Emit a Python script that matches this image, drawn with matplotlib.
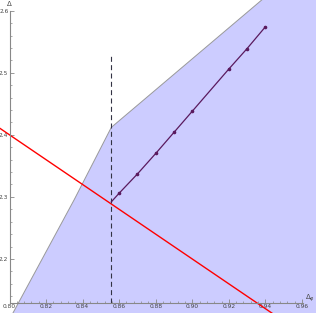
import numpy as np
import matplotlib
matplotlib.use('Agg')
import matplotlib.pyplot as plt
from matplotlib.ticker import FormatStrFormatter

# Граница допустимой области (закрашена)
region_x = [0.7995, 0.8353, 0.8557, 0.9700]
region_y = [2.100, 2.295, 2.412, 2.697]

# Прямая (красная)
red_x = [0.7900, 0.9500]
red_y = [2.4200, 2.1000]

# Кривая с точками (фиолетовая)
curve_x = [0.8557, 0.86, 0.87, 0.88, 0.89, 0.90, 0.91, 0.92, 0.93, 0.94]
curve_y = [2.292, 2.306, 2.337, 2.370, 2.404, 2.438, 2.472, 2.506, 2.539, 2.574]
dot_x = [0.86, 0.87, 0.88, 0.89, 0.90, 0.92, 0.93, 0.94]
dot_y = [2.306, 2.337, 2.370, 2.404, 2.438, 2.506, 2.539, 2.574]

# Вертикальная штриховая линия
dash_x = 0.8557
dash_y = (2.129, 2.531)

# Деления осей
x_major = [0.80, 0.82, 0.84, 0.86, 0.88, 0.90, 0.92, 0.94, 0.96]
y_major = [2.2, 2.3, 2.4, 2.5, 2.6]

# Начало осей
x0, y0 = 0.80, 2.129

fig = plt.figure(figsize=(3.16, 3.13), dpi=100)
ax = fig.add_axes([0, 0, 1, 1])
ax.set_xlim(0.7948, 0.9677)
ax.set_ylim(2.113, 2.6172)

# Закрашенная область
poly_x = region_x + [region_x[-1], region_x[0]]
poly_y = region_y + [region_y[0], region_y[0]]
ax.fill(poly_x, poly_y, facecolor='#ccccff', edgecolor='none', zorder=1)
ax.plot(region_x, region_y, color='#999999', lw=0.7, zorder=1.5)

ax.plot(red_x, red_y, color='#ff0000', lw=1.0, zorder=3)
ax.vlines(dash_x, dash_y[0], dash_y[1], colors='#333344', lw=0.8,
          linestyles=(0, (4.5, 3)), zorder=3)
ax.plot(curve_x, curve_y, color='#5a1a5e', lw=0.9, zorder=4)
ax.plot(dot_x, dot_y, 'o', color='#5a1a5e', ms=1.6, zorder=4)

# Оси в стиле Mathematica
for s in ('top', 'right'):
    ax.spines[s].set_visible(False)
ax.spines['left'].set_position(('data', x0))
ax.spines['bottom'].set_position(('data', y0))
ax.spines['left'].set_bounds(y0, 2.6)
ax.spines['bottom'].set_bounds(x0, 0.9605)
for s in ('left', 'bottom'):
    ax.spines[s].set_color('#888888')
    ax.spines[s].set_linewidth(0.8)
    ax.spines[s].set_zorder(5)

ax.set_xticks(x_major)
ax.set_yticks(y_major)
ax.set_xticks(np.arange(0.80, 0.9601, 0.004), minor=True)
ax.set_yticks(np.arange(2.14, 2.6001, 0.02), minor=True)
ax.xaxis.set_major_formatter(FormatStrFormatter('%.2f'))
ax.yaxis.set_major_formatter(FormatStrFormatter('%.1f'))

ax.tick_params(which='both', direction='in', color='#888888', labelsize=4.2,
               labelcolor='#444444', pad=0.8)
ax.tick_params(which='major', length=3, width=0.6)
ax.tick_params(which='minor', length=1.5, width=0.5)

ax.text(x0, 2.6108, 'Δ', ha='center', va='center', fontsize=5, color='#444444')
ax.text(0.9617, 2.1372, r'$\Delta_\varphi$', ha='left', va='center',
        fontsize=5, color='#444444')

fig.savefig('out.png', dpi=100)
